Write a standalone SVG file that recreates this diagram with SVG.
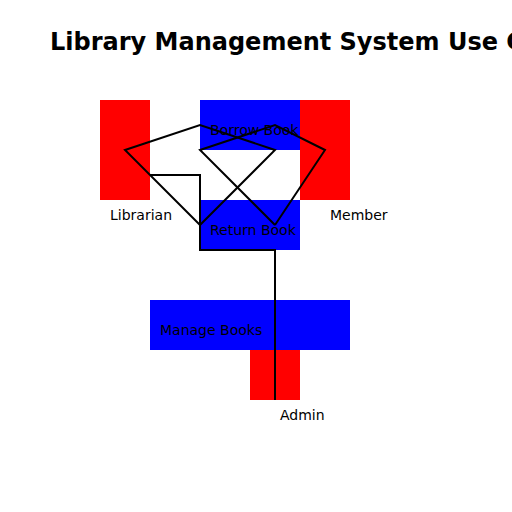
<svg xmlns="http://www.w3.org/2000/svg" width="512" height="512" viewBox="0 0 512 512">
<style>
text{font-family:"DejaVu Sans",sans-serif;font-size:14px;fill:#000}
.title{font-size:24px;font-weight:bold}
.actor{fill:#ff0000}
.usecase{fill:#0000ff}
.conn{fill:none;stroke:#000;stroke-width:2}
</style>
<rect width="512" height="512" fill="#fff"/>
<text class="title" x="50" y="50">Library Management System Use Case Diagram</text>
<g id="librarian"><rect class="actor" x="100" y="100" width="50" height="100"/><text x="110" y="220">Librarian</text></g>
<g id="member"><rect class="actor" x="300" y="100" width="50" height="100"/><text x="330" y="220">Member</text></g>
<g id="borrow-book"><rect class="usecase" x="200" y="100" width="100" height="50"/><text x="210" y="135">Borrow Book</text></g>
<g id="return-book"><rect class="usecase" x="200" y="200" width="100" height="50"/><text x="210" y="235">Return Book</text></g>
<g id="manage-books"><rect class="usecase" x="150" y="300" width="200" height="50"/><text x="160" y="335">Manage Books</text></g>
<g id="admin"><rect class="actor" x="250" y="350" width="50" height="50"/><text x="280" y="420">Admin</text></g>
<g id="connectors">
<polyline class="conn" points="200,225 125,150 200,125 275,150 200,225"/>
<polyline class="conn" points="275,225 200,150 275,125 325,150 275,225"/>
<polyline class="conn" points="150,175 200,175 200,250 275,250 275,400"/>
</g>
</svg>
